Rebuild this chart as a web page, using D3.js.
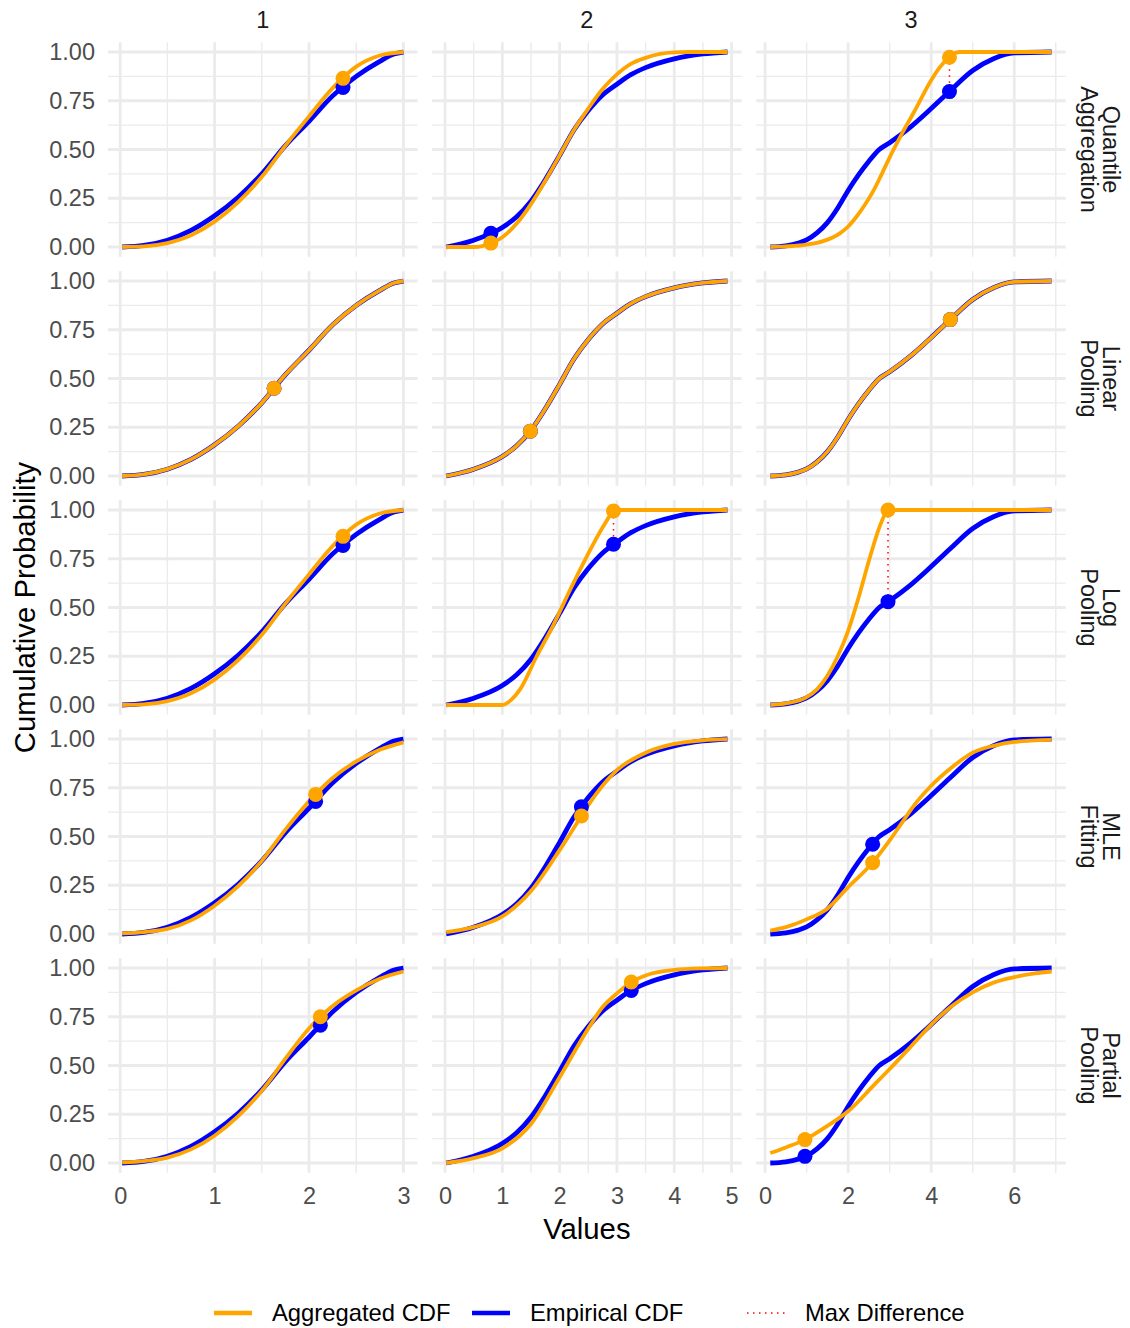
<!DOCTYPE html>
<html>
<head>
<meta charset="utf-8">
<script src="https://cdn.jsdelivr.net/npm/d3@7"></script>
<style>
  body { margin: 0; background: #fff; }
  svg { display: block; font-family: "Liberation Sans", Arial, sans-serif; }
</style>
</head>
<body>
<div id="chart"></div>
<script>
// facet labels
const groups = ["1", "2", "3"];
const methods = ["Quantile\nAggregation", "Linear\nPooling", "Log\nPooling", "MLE\nFitting", "Partial\nPooling"];

// tick values per column (free x scales) and shared y
const xTicks = [[0, 1, 2, 3], [0, 1, 2, 3, 4, 5], [0, 2, 4, 6]];
const xMinor = [[0.5, 1.5, 2.5], [0.5, 1.5, 2.5, 3.5, 4.5], [1, 3, 5, 7]];
const yTicks = [0, 0.25, 0.5, 0.75, 1];
const yMinor = [0.125, 0.375, 0.625, 0.875];

// empirical CDF of each group, [value, probability]
const empirical1 = [[0.02, 0], [0.25, 0.008], [0.5, 0.035], [0.75, 0.085], [1, 0.16], [1.25, 0.255], [1.5, 0.375], [1.75, 0.52], [2, 0.645], [2.25, 0.775], [2.5, 0.875], [2.75, 0.952], [2.9, 0.99], [3, 1]];
const empirical2 = [[0.02, 0], [0.5, 0.035], [1, 0.1], [1.25, 0.155], [1.5, 0.235], [1.75, 0.345], [2, 0.47], [2.25, 0.6], [2.5, 0.7], [2.75, 0.78], [3, 0.835], [3.25, 0.885], [3.5, 0.92], [4, 0.965], [4.5, 0.99], [4.93, 1]];
const empirical3 = [[0.125, 0], [0.5, 0.006], [0.8, 0.02], [1, 0.036], [1.25, 0.072], [1.5, 0.125], [1.75, 0.2], [2, 0.29], [2.25, 0.37], [2.5, 0.44], [2.75, 0.5], [3, 0.535], [3.5, 0.615], [4, 0.71], [4.45, 0.8], [5, 0.905], [5.5, 0.965], [6, 0.995], [6.9, 1]];
const empirical = [empirical1, empirical2, empirical3];

// aggregated CDF per method, one list per group
const aggQuantile = [
  [[0.02, 0], [0.25, 0.003], [0.5, 0.02], [0.75, 0.06], [1, 0.13], [1.25, 0.23], [1.5, 0.36], [1.75, 0.52], [2, 0.67], [2.25, 0.815], [2.5, 0.925], [2.75, 0.982], [3, 1]],
  [[0.02, 0], [0.5, 0], [0.65, 0.005], [0.8, 0.02], [1, 0.05], [1.25, 0.12], [1.5, 0.22], [1.75, 0.34], [2, 0.47], [2.25, 0.6], [2.5, 0.71], [2.75, 0.81], [3, 0.885], [3.25, 0.94], [3.5, 0.97], [3.75, 0.99], [4, 0.998], [4.25, 1], [4.93, 1]],
  [[0.125, 0], [0.5, 0.003], [1, 0.012], [1.4, 0.03], [1.8, 0.07], [2, 0.105], [2.2, 0.155], [2.4, 0.215], [2.6, 0.285], [2.8, 0.37], [3, 0.46], [3.3, 0.583], [3.57, 0.686], [4, 0.855], [4.2, 0.92], [4.44, 0.973], [4.6, 0.997], [4.7, 1], [6.9, 1]]
];
const aggLinear = [empirical1, empirical2, empirical3];
const aggLog = [
  [[0.02, 0], [0.25, 0.003], [0.5, 0.02], [0.75, 0.06], [1, 0.13], [1.25, 0.23], [1.5, 0.36], [1.75, 0.52], [2, 0.67], [2.25, 0.815], [2.5, 0.925], [2.75, 0.982], [3, 1]],
  [[0.02, 0], [1.0, 0], [1.15, 0.025], [1.31, 0.08], [1.6, 0.25], [1.89, 0.41], [2.19, 0.595], [2.48, 0.765], [2.77, 0.92], [2.93, 0.99], [3.0, 1], [4.93, 1]],
  [[0.125, 0], [0.5, 0.008], [1, 0.04], [1.25, 0.08], [1.5, 0.15], [1.75, 0.25], [2, 0.38], [2.25, 0.55], [2.5, 0.74], [2.75, 0.91], [2.88, 0.975], [2.96, 1], [6.9, 1]]
];
const aggMLE = [
  [[0.02, 0.003], [0.25, 0.01], [0.5, 0.026], [0.75, 0.07], [1, 0.145], [1.25, 0.245], [1.5, 0.375], [1.75, 0.535], [2, 0.68], [2.25, 0.8], [2.5, 0.885], [2.75, 0.945], [3, 0.983]],
  [[0.02, 0.01], [0.5, 0.035], [1, 0.09], [1.5, 0.22], [2, 0.43], [2.38, 0.605], [2.5, 0.66], [3, 0.84], [3.5, 0.93], [4, 0.975], [4.5, 0.993], [4.93, 0.999]],
  [[0.125, 0.017], [0.5, 0.035], [1, 0.075], [1.5, 0.13], [2, 0.24], [2.59, 0.366], [3, 0.48], [3.31, 0.575], [3.57, 0.655], [4, 0.76], [4.5, 0.855], [5, 0.93], [5.5, 0.965], [6, 0.985], [6.9, 0.996]]
];
const aggPartial = [
  [[0.02, 0.003], [0.25, 0.01], [0.5, 0.028], [0.75, 0.07], [1, 0.14], [1.25, 0.24], [1.5, 0.37], [1.75, 0.535], [2, 0.69], [2.12, 0.75], [2.25, 0.805], [2.5, 0.885], [2.75, 0.945], [3, 0.982]],
  [[0.02, 0], [0.5, 0.025], [1, 0.075], [1.5, 0.2], [2, 0.44], [2.5, 0.69], [2.75, 0.8], [3, 0.87], [3.25, 0.928], [3.5, 0.962], [4, 0.99], [4.5, 0.998], [4.93, 1]],
  [[0.125, 0.051], [0.5, 0.08], [0.96, 0.12], [1.5, 0.19], [2, 0.265], [2.61, 0.397], [3, 0.482], [3.5, 0.595], [4, 0.71], [4.5, 0.805], [5, 0.875], [5.5, 0.925], [6, 0.953], [6.5, 0.972], [6.9, 0.982]]
];
const aggregated = [aggQuantile, aggLinear, aggLog, aggMLE, aggPartial];

// point of maximum difference: [value, aggregated p, empirical p]
const maxDiffQuantile = [[2.36, 0.865, 0.818], [0.8, 0.02, 0.07], [4.44, 0.973, 0.797]];
const maxDiffLinear = [[1.63, 0.45, 0.45], [1.49, 0.23, 0.23], [4.46, 0.802, 0.802]];
const maxDiffLog = [[2.36, 0.865, 0.818], [2.94, 0.995, 0.824], [2.96, 1.0, 0.53]];
const maxDiffMLE = [[2.07, 0.716, 0.68], [2.38, 0.605, 0.652], [2.59, 0.366, 0.46]];
const maxDiffPartial = [[2.12, 0.75, 0.707], [3.25, 0.928, 0.885], [0.96, 0.12, 0.034]];
const maxDiff = [maxDiffQuantile, maxDiffLinear, maxDiffLog, maxDiffMLE, maxDiffPartial];

const legendLabels = ["Aggregated CDF", "Empirical CDF", "Max Difference"];

// ---- layout ----
const width = 1130, height = 1328;
const panelW = 309.5, panelH = 214.5, gapX = 14.6, gapY = 14.5;
const marginLeft = 108, marginTop = 42.25;
const aggColor = "#FFA500", empColor = "#0000FF", diffColor = "#FF0000";
const gridColor = "#EBEBEB";
const tickSize = 23.5, titleSize = 29.3, legendSize = 23.8;

const svg = d3.select("#chart")
  .append("svg")
  .attr("width", width)
  .attr("height", height);

// free x scale per column, 5% expansion like ggplot
const xScales = groups.map((g, c) => {
  let xs = [];
  empirical[c].forEach(d => xs.push(d[0]));
  aggregated.forEach(a => a[c].forEach(d => xs.push(d[0])));
  const ext = d3.extent(xs);
  const pad = (ext[1] - ext[0]) * 0.05;
  return d3.scaleLinear().domain([ext[0] - pad, ext[1] + pad]).range([0, panelW]);
});
const y = d3.scaleLinear().domain([-0.05, 1.05]).range([panelH, 0]);

methods.forEach((m, r) => {
  groups.forEach((g, c) => {
    const x = xScales[c];
    const panel = svg.append("g")
      .attr("transform", `translate(${marginLeft + c * (panelW + gapX)}, ${marginTop + r * (panelH + gapY)})`);

    // grid
    panel.selectAll("line.vminor").data(xMinor[c]).enter().append("line")
      .attr("x1", d => x(d)).attr("x2", d => x(d)).attr("y1", 0).attr("y2", panelH)
      .style("stroke", gridColor).style("stroke-width", 1.4);
    panel.selectAll("line.hminor").data(yMinor).enter().append("line")
      .attr("x1", 0).attr("x2", panelW).attr("y1", d => y(d)).attr("y2", d => y(d))
      .style("stroke", gridColor).style("stroke-width", 1.4);
    panel.selectAll("line.vmajor").data(xTicks[c]).enter().append("line")
      .attr("x1", d => x(d)).attr("x2", d => x(d)).attr("y1", 0).attr("y2", panelH)
      .style("stroke", gridColor).style("stroke-width", 2.8);
    panel.selectAll("line.hmajor").data(yTicks).enter().append("line")
      .attr("x1", 0).attr("x2", panelW).attr("y1", d => y(d)).attr("y2", d => y(d))
      .style("stroke", gridColor).style("stroke-width", 2.8);

    const line = d3.line()
      .x(d => x(d[0]))
      .y(d => y(d[1]))
      .curve(d3.curveMonotoneX);

    panel.append("path")
      .datum(empirical[c])
      .attr("fill", "none")
      .attr("stroke", empColor)
      .attr("stroke-width", 4.8)
      .attr("d", line);

    panel.append("path")
      .datum(aggregated[r][c])
      .attr("fill", "none")
      .attr("stroke", aggColor)
      .attr("stroke-width", 3.8)
      .attr("d", line);

    const md = maxDiff[r][c];
    panel.append("line")
      .attr("x1", x(md[0])).attr("x2", x(md[0]))
      .attr("y1", y(md[1])).attr("y2", y(md[2]))
      .style("stroke", diffColor)
      .style("stroke-width", 1.5)
      .style("stroke-dasharray", "1.5, 4.5");

    panel.append("circle")
      .attr("cx", x(md[0])).attr("cy", y(md[2])).attr("r", 7.5)
      .style("fill", empColor);
    panel.append("circle")
      .attr("cx", x(md[0])).attr("cy", y(md[1])).attr("r", 7.5)
      .style("fill", aggColor);

    // y axis labels on first column
    if (c === 0) {
      const yAxis = panel.append("g")
        .call(d3.axisLeft(y).tickValues(yTicks).tickFormat(d3.format(".2f")).tickSize(0).tickPadding(13));
      yAxis.select(".domain").remove();
      yAxis.selectAll("text")
        .attr("font-size", tickSize)
        .attr("font-family", "Liberation Sans, Arial, sans-serif")
        .attr("fill", "#4D4D4D");
    }
    // x axis labels on bottom row
    if (r === methods.length - 1) {
      const xAxis = panel.append("g")
        .attr("transform", `translate(0, ${panelH})`)
        .call(d3.axisBottom(x).tickValues(xTicks[c]).tickFormat(d3.format("d")).tickSize(0).tickPadding(15));
      xAxis.select(".domain").remove();
      xAxis.selectAll("text")
        .attr("font-size", tickSize)
        .attr("font-family", "Liberation Sans, Arial, sans-serif")
        .attr("fill", "#4D4D4D");
    }
  });

  // right strip label
  const cy = marginTop + r * (panelH + gapY) + panelH / 2;
  const strip = svg.append("text")
    .attr("transform", `translate(1092, ${cy}) rotate(90)`)
    .attr("text-anchor", "middle")
    .attr("font-size", tickSize)
    .attr("fill", "#1A1A1A");
  m.split("\n").forEach((t, i) => {
    strip.append("tspan").attr("x", 0).attr("y", i === 0 ? -11 : 11).text(t);
  });
});

// top strip labels
groups.forEach((g, c) => {
  svg.append("text")
    .attr("x", marginLeft + c * (panelW + gapX) + panelW / 2)
    .attr("y", 28)
    .attr("text-anchor", "middle")
    .attr("font-size", tickSize)
    .attr("fill", "#1A1A1A")
    .text(g);
});

// axis titles
const plotRight = marginLeft + 3 * panelW + 2 * gapX;
const plotBottom = marginTop + 5 * panelH + 4 * gapY;
svg.append("text")
  .attr("x", (marginLeft + plotRight) / 2)
  .attr("y", 1239)
  .attr("text-anchor", "middle")
  .attr("font-size", titleSize)
  .attr("fill", "#000")
  .text("Values");

svg.append("text")
  .attr("transform", `translate(35, ${(marginTop + plotBottom) / 2}) rotate(-90)`)
  .attr("text-anchor", "middle")
  .attr("font-size", titleSize)
  .attr("fill", "#000")
  .text("Cumulative Probability");

// legend
const legendY = 1313;
const keyX = [214, 472, 747];
const legend = svg.append("g");
legendLabels.forEach((lab, i) => {
  const key = legend.append("line")
    .attr("x1", keyX[i]).attr("x2", keyX[i] + 38)
    .attr("y1", legendY).attr("y2", legendY);
  if (i === 0) key.style("stroke", aggColor).style("stroke-width", 4.5);
  if (i === 1) key.style("stroke", empColor).style("stroke-width", 4.5);
  if (i === 2) key.style("stroke", diffColor).style("stroke-width", 1.5).style("stroke-dasharray", "1.5, 4.5");
  legend.append("text")
    .attr("x", keyX[i] + 58)
    .attr("y", legendY + 8)
    .attr("font-size", legendSize)
    .attr("fill", "#000")
    .text(lab);
});
</script>
</body>
</html>
